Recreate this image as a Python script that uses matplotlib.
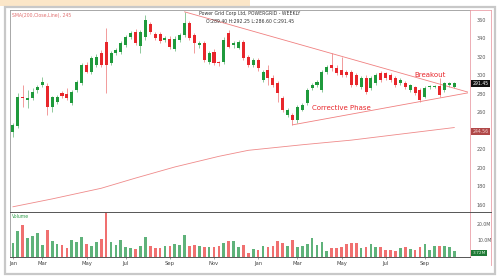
import matplotlib.pyplot as plt
import numpy as np
import pandas as pd
from matplotlib.patches import Rectangle

# weekly candles, Power Grid
opens = [239, 245, 277, 273.5, 275.6, 284, 289.7, 288.6, 266, 271.4,
         281, 280, 270, 284, 292, 311.4, 303.8, 311, 324, 336,
         313.5, 324, 325, 333, 341.6, 347, 332, 341.6, 355.7, 345,
         345, 338.4, 339.5, 328.7, 338.4, 343.8, 356.8, 343.8, 333, 335,
         314.6, 325.4, 314.6, 314.6, 346, 333, 330, 336, 320, 311.4,
         316.8, 295, 306, 297.3, 292, 275.6, 257, 257, 252, 263,
         270, 286.5, 289.7, 284, 303.8, 311.4, 308, 306, 303.8, 303.8,
         300, 287.6, 297.3, 286.5, 292, 302.7, 302.7, 300.5, 297.3, 292,
         292, 284, 287.6, 284, 276.8, 287, 287.6, 288.6, 284, 289.7, 287.6]
highs = [248, 281, 290, 284, 286, 290, 298, 292, 278, 279,
         283, 286, 284, 295, 313, 314, 321, 323, 327, 351,
         326, 329, 337, 344, 348, 350, 349, 365, 358, 347,
         347, 342, 342, 342, 346, 368.6, 359, 346, 337, 337,
         326, 328, 316, 341, 349, 337, 338, 338, 322, 319,
         319, 306, 311, 300, 294, 278, 265, 259, 268, 270,
         286, 292, 295, 306, 311, 324, 311, 320, 306, 306,
         302, 299, 300, 299, 302, 305, 304, 302, 299, 297,
         294, 291, 289, 286, 288, 290, 290, 297, 293, 293, 293]
lows = [233, 243, 266, 265, 273, 281, 287, 257, 260, 269,
        276, 273, 268, 282, 290, 302, 301, 309, 309, 281,
        311, 322, 323, 331, 339, 333, 324, 338, 345, 338,
        335, 336, 328, 326, 336, 341, 338, 324, 330, 314,
        312, 311, 310, 312, 329, 330, 328, 317, 309, 309,
        305, 293, 290, 287, 271, 260, 255, 246.5, 249, 261,
        268, 284, 287, 282, 301, 305, 300, 298, 298, 287,
        288, 285, 280, 284, 290, 293, 295, 293, 287, 290,
        285, 282, 279, 271, 275, 285, 286, 277, 282, 287, 286]
closes = [246.5, 277, 275, 275.6, 282, 287.6, 293, 266, 276.8, 276.8,
          278, 275.6, 282, 293, 311.4, 303.8, 319, 320, 311.4, 311,
          324, 327.6, 335, 341.6, 346, 335, 347, 360, 347, 340.5,
          337.3, 340.5, 331, 339.5, 343.8, 356.8, 340.5, 335, 335, 316.8,
          324, 313.5, 313.5, 338.4, 331, 335, 336, 319, 311.4, 316.8,
          308, 303.8, 297.3, 289.7, 281, 262.7, 262.7, 252, 266, 268,
          284, 290, 293, 303.8, 309, 308, 302.7, 300.5, 300.5, 289.7,
          290, 297.3, 282, 297.3, 300.5, 295, 297.3, 295, 289.7, 295,
          287.6, 289.7, 281, 273.5, 286.5, 288, 288.6, 279, 292, 292, 291.45]
volume = [8.2, 15.7, 19, 11.6, 12.5, 14.5, 7.3, 16, 9.8, 7.6,
          7.3, 5.3, 10.2, 9, 12.2, 7.6, 6.7, 9.2, 10.8, 26.9,
          9.2, 7.1, 10.2, 6.3, 5.7, 4.9, 6.9, 12.2, 6.7, 5.7,
          5.3, 6.9, 6.9, 7.6, 7.3, 13.1, 6.9, 7.3, 6.9, 5.9,
          5.9, 6.3, 6.9, 8.2, 9.8, 9.8, 6.3, 7.3, 2.4, 4.7,
          4.3, 6.7, 6.3, 6.7, 9.8, 8.6, 6.7, 10.2, 6.3, 6.7,
          7.8, 11.6, 7.3, 9.2, 3.7, 5.3, 5.3, 6.3, 7.8, 8.6,
          8.2, 5.3, 6.3, 7.8, 6.3, 6.3, 4.3, 4.3, 3.7, 5.3,
          5.9, 4.7, 4.3, 6.3, 7.8, 4.3, 6.9, 6.9, 6.7, 5.9, 3.7]

# 200 SMA read at a few weeks
sma_idx = [0, 8, 18, 25, 33, 42, 48, 59, 69, 90]
sma_val = [158, 166.5, 178, 189, 201, 212.5, 219, 225, 230, 243.6]

# triangle lines (week index, price)
upper_x = [35, 92.7]
upper_y = [368.6, 282]
lower_x = [57, 92.7]
lower_y = [246.5, 281]

tick_months = [(2024, 1), (2024, 3), (2024, 5), (2024, 7), (2024, 9), (2024, 11),
               (2025, 1), (2025, 3), (2025, 5), (2025, 7), (2025, 9)]
tick_labels = ["Jan", "Mar", "May", "Jul", "Sep", "Nov", "Jan", "Mar", "May", "Jul", "Sep"]
# 240 sits under the SMA value box
price_ticks = [360, 340, 320, 300, 280, 260, 220, 200, 180, 160]

dates = pd.date_range("2024-01-22", periods=len(closes), freq="W-MON")
x = np.arange(len(closes))
o = np.array(opens); c = np.array(closes)
up = c >= o
green, red = "#1f9a3c", "#e8262b"
col = np.where(up, green, red)

fig = plt.figure(figsize=(5, 2.8), dpi=100)
fig.patch.set_facecolor("white")
# top strip + outer frame
fig.patches.append(Rectangle((0, 0.978), 0.5, 0.022, transform=fig.transFigure,
                             facecolor="#fbe6c8", edgecolor="none"))
fig.patches.append(Rectangle((0.01, 0.022), 0.98, 0.953, transform=fig.transFigure,
                             facecolor="none", edgecolor="#c8c8c8", lw=1.6))

ax = fig.add_axes([0.02, 0.243, 0.92, 0.722])
axv = fig.add_axes([0.02, 0.082, 0.92, 0.161], sharex=ax)

# candles
ax.vlines(x, lows, highs, colors=np.where(up, "#7cc08c", "#f08a8a"), lw=0.6, zorder=2)
ax.bar(x, np.maximum(np.abs(c - o), 0.8), bottom=np.minimum(o, c), width=0.62,
       color=col, zorder=3)

ax.plot(sma_idx, sma_val, color="#ef8a8a", lw=0.6)
ax.plot(upper_x, upper_y, color="#f08080", lw=0.6)
ax.plot(lower_x, lower_y, color="#f08080", lw=0.6)

ax.text(85, 300.5, "Breakout", color=red, fontsize=5, ha="center", va="center")
ax.text(67, 265, "Corrective Phase", color=red, fontsize=5, ha="center", va="center")

ax.text(0.004, 0.985, "SMA(200,Close,Line), 245", transform=ax.transAxes,
        color="#e07070", fontsize=3.3, va="top")
ax.text(0.522, 0.995, "Power Grid Corp Ltd, POWERGRID - WEEKLY", transform=ax.transAxes,
        color="#333333", fontsize=3.3, va="top", ha="center")
ax.text(0.522, 0.955, "O:289.40 H:292.25 L:286.60 C:291.45", transform=ax.transAxes,
        color="#333333", fontsize=3.3, va="top", ha="center")

ax.set_ylim(152.4, 370.8)
ax.set_xlim(-0.6, 93.2)
ax.yaxis.tick_right()
ax.set_yticks(price_ticks)
ax.set_yticklabels([str(v) for v in price_ticks])
ax.tick_params(axis="y", length=0, labelsize=3.5, labelcolor="#555555", pad=5)
ax.tick_params(axis="x", length=0, labelbottom=False)

# value boxes at right
box = dict(boxstyle="square,pad=0.25", lw=0)
ax.annotate("291.45", xy=(1.005, closes[-1]), xycoords=("axes fraction", "data"),
            fontsize=3.3, color="white", va="center", ha="left",
            bbox=dict(box, facecolor="#111111"), annotation_clip=False)
ax.annotate("244.56", xy=(1.005, sma_val[-1] - 4), xycoords=("axes fraction", "data"),
            fontsize=3.3, color="#f4d0d0", va="center", ha="left",
            bbox=dict(box, facecolor="#b04848"), annotation_clip=False)

# volume
axv.bar(x, volume, width=0.55, color=np.where(up, "#5fb27a", "#f07070"))
axv.set_ylim(0, 27)
axv.yaxis.tick_right()
axv.set_yticks([20, 10])
axv.set_yticklabels(["20.0M", "10.0M"])
axv.tick_params(axis="y", length=0, labelsize=3.3, labelcolor="#555555", pad=5)
axv.text(0.004, 0.96, "Volume", transform=axv.transAxes, color="#2e9e4a",
         fontsize=3.3, va="top")
axv.annotate("3.72M", xy=(1.005, 2.2), xycoords=("axes fraction", "data"),
             fontsize=3.1, color="#d8f0d8", va="center", ha="left",
             bbox=dict(box, facecolor="#1f7a36"), annotation_clip=False)

pos = []
for (yy, mm) in tick_months:
    idx = np.where((dates.year == yy) & (dates.month == mm))[0]
    pos.append(idx[0])
axv.set_xticks(pos)
axv.set_xticklabels(tick_labels)
axv.tick_params(axis="x", length=1.5, width=0.4, color="#666666", labelsize=3.8,
                labelcolor="#444444", pad=1)

for a in (ax, axv):
    for s in ("left", "top"):
        a.spines[s].set_color("#9a9a9a")
        a.spines[s].set_linewidth(0.6)
    a.spines["right"].set_color("#eaa0a8")
    a.spines["right"].set_linewidth(0.6)
    a.spines["bottom"].set_color("#555555")
    a.spines["bottom"].set_linewidth(0.7)
ax.spines["bottom"].set_visible(False)
axv.spines["top"].set_color("#555555")
axv.spines["top"].set_linewidth(0.7)

# label column frame on the right
fig.add_artist(plt.Line2D([0.982, 0.982], [0.055, 0.965], color="#eaa0a8", lw=0.6))
fig.add_artist(plt.Line2D([0.94, 0.982], [0.965, 0.965], color="#eaa0a8", lw=0.6))
fig.add_artist(plt.Line2D([0.94, 0.982], [0.243, 0.243], color="#555555", lw=0.7))

fig.savefig("out.png", dpi=100)
